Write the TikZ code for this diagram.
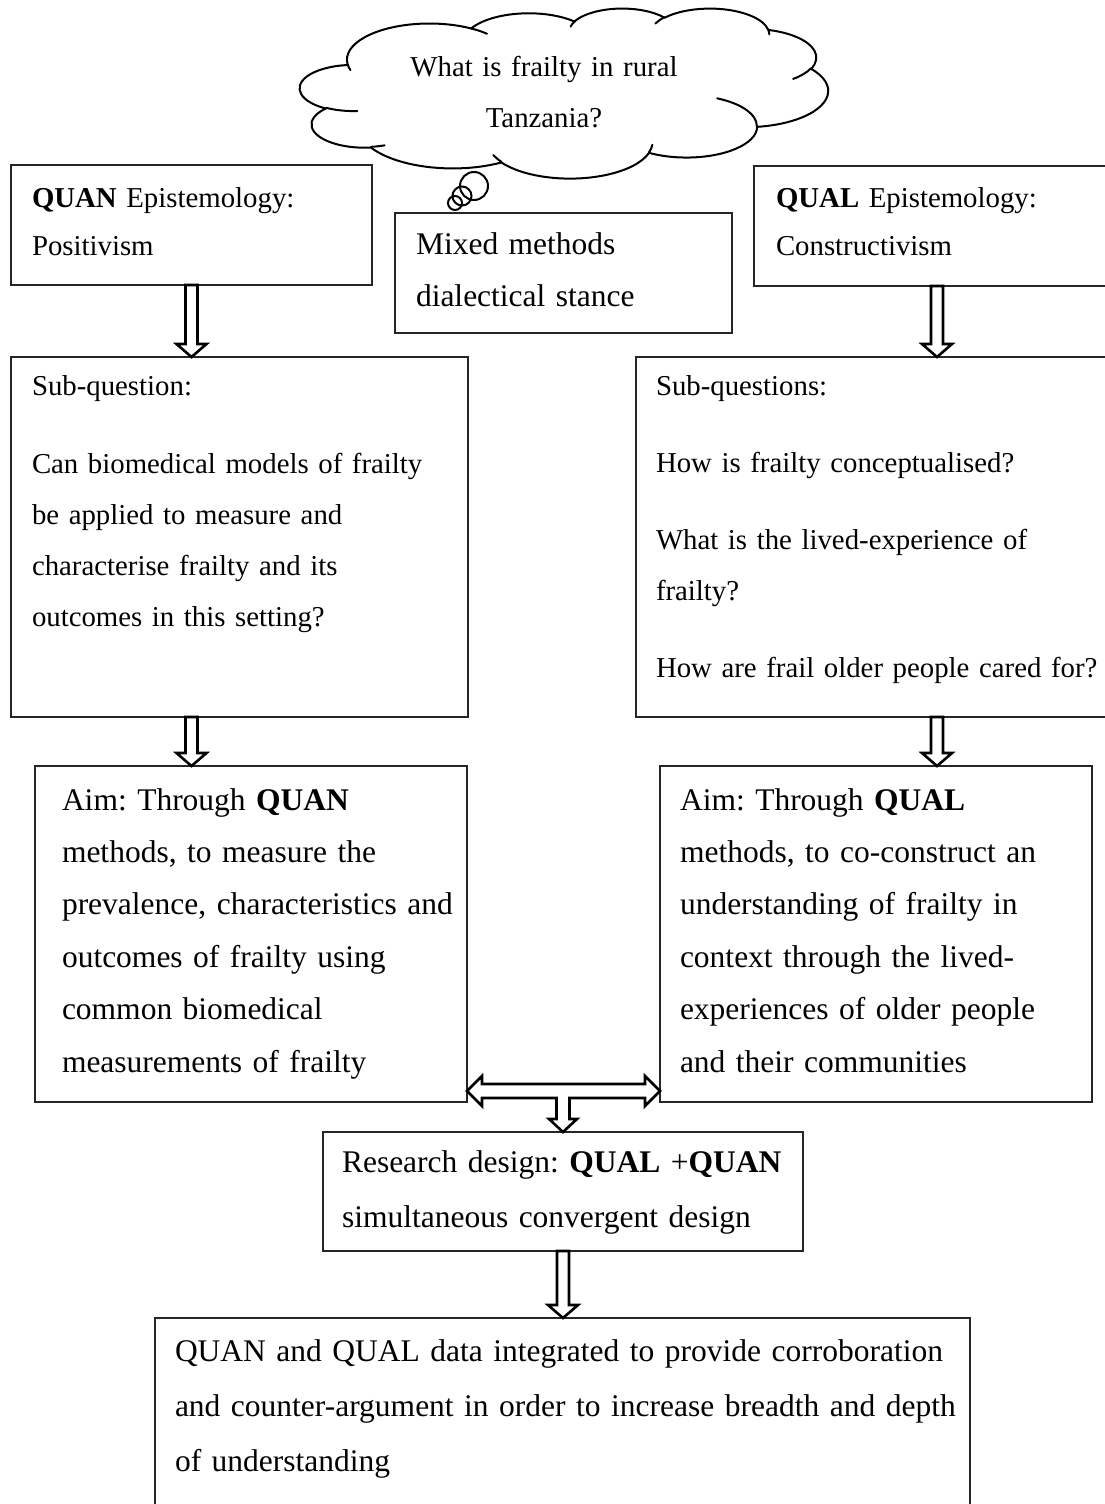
\documentclass[tikz,border=0pt]{standalone}
\usepackage{fontspec}
\setmainfont{Liberation Serif}
\usetikzlibrary{calc}
\frenchspacing
\tikzset{
  box/.style={draw=black!85, line width=1.3pt, inner sep=0pt, outer sep=0pt, anchor=north west, fill=none},
  blk/.style={draw=black, line width=2.6pt, line join=miter, fill=white},
  txt/.style={inner sep=0pt, outer sep=0pt, anchor=base west, text width=900pt, align=left},
  small/.style={font=\fontsize{28.8}{51}\selectfont},
  mid/.style={font=\fontsize{31.5}{52.4}\selectfont},
  cloudline/.style={draw=black, line width=2pt, line join=round},
  crease/.style={draw=black, line width=2pt, line cap=round},
}
\newcommand{\blockdown}[3]{% #1 x-ref node, #2 from node, #3 to node
  \draw[blk] let \p0=(#1.south), \p1=(#2.south), \p2=(#3.north) in
    (\x0-6pt,\y1) -- (\x0-6pt,\y2+13pt) -- (\x0-15pt,\y2+13pt) -- (\x0,\y2)
    -- (\x0+15pt,\y2+13pt) -- (\x0+6pt,\y2+13pt) -- (\x0+6pt,\y1) -- cycle;}
% arc with visual start angle #4 and sweep #5 on ellipse #2 x #3 -> parametric angles
\newcommand\cldarc[5]{%
  \pgfmathsetmacro\cldtS{atan2((#2)*sin(#4),(#3)*cos(#4))}%
  \pgfmathsetmacro\cldtE{atan2((#2)*sin((#4)+(#5)),(#3)*cos((#4)+(#5)))}%
  \pgfmathsetmacro\cldtD{mod(mod(\cldtE-\cldtS,360)+360,360)}%
  \expandafter\global\expandafter\let\csname cldS#1\endcsname\cldtS
  \expandafter\global\expandafter\let\csname cldD#1\endcsname\cldtD}
\newcommand\carc[3]{arc[start angle=\csname cldS#1\endcsname, delta angle=\csname cldD#1\endcsname, x radius=#2, y radius=#3]}
\begin{document}
\begin{tikzpicture}[x=1pt,y=-1pt]
\useasboundingbox (0,0) rectangle (1105,1504);
\clip (0,0) rectangle (1105,1504);
\fill[white] (0,0) rectangle (1105,1504);

% boxes
\node[box, minimum width=361pt, minimum height=120pt] (quan) at (11,165) {};
\node[box, minimum width=366pt, minimum height=120pt] (qual) at (754,166) {};
\node[box, minimum width=337pt, minimum height=120pt] (mixed) at (395,213) {};
\node[box, minimum width=457pt, minimum height=360pt] (subL) at (11,357) {};
\node[box, minimum width=604pt, minimum height=360pt] (subR) at (636,357) {};
\node[box, minimum width=432pt, minimum height=336pt] (aimL) at (35,766) {};
\node[box, minimum width=432pt, minimum height=336pt] (aimR) at (660,766) {};
\node[box, minimum width=480pt, minimum height=119pt] (research) at (323,1132) {};
\node[box, minimum width=815pt, minimum height=260pt] (final) at (155,1318) {};

% texts
\node[txt, font=\fontsize{28.8}{48}\selectfont] (quanT) at (32,207) {\textbf{QUAN} Epistemology:\\Positivism};
\node[txt, font=\fontsize{28.8}{48}\selectfont] (qualT) at (776,207) {\textbf{QUAL} Epistemology:\\Constructivism};
\node[txt, font=\fontsize{31.5}{52}\selectfont] (mixedT) at (416,254.5) {Mixed methods\\dialectical stance};
\node[txt, small] (subLT) at (32,395) {Sub-question:\\[27pt]Can biomedical models of frailty\\be applied to measure and\\characterise frailty and its\\outcomes in this setting?};
\node[txt, small] (subRT) at (656,395) {Sub-questions:\\[26pt]How is frailty conceptualised?\\[26pt]What is the lived-experience of\\frailty?\\[26pt]How are frail older people cared for?};
\node[txt, mid] (aimLT) at (62,810) {Aim: Through \textbf{QUAN}\\methods, to measure the\\prevalence, characteristics and\\outcomes of frailty using\\common biomedical\\measurements of frailty};
\node[txt, mid] (aimRT) at (680,810) {Aim: Through \textbf{QUAL}\\methods, to co-construct an\\understanding of frailty in\\context through the lived-\\experiences of older people\\and their communities};
\node[txt, font=\fontsize{31.5}{55}\selectfont] (researchT) at (342,1172.5) {Research design: \textbf{QUAL} +\textbf{QUAN}\\simultaneous convergent design};
\node[txt, font=\fontsize{31.5}{55}\selectfont] (finalT) at (175,1361) {QUAN and QUAL data integrated to provide corroboration\\and counter-argument in order to increase breadth and depth\\of understanding};

% block arrows
\blockdown{quan}{quan}{subL}
\blockdown{qual}{qual}{subR}
\blockdown{quan}{subL}{aimL}
\blockdown{qual}{subR}{aimR}
\blockdown{research}{research}{final}

% double arrow with stem
\draw[blk] let \p1=(aimL.south east), \p2=(aimR.south west), \p3=(research.north) in
  (\x1,\y1+11pt) -- (\x1+15pt,\y1+26pt) -- (\x1+15pt,\y1+18pt)
  -- (\x2-15pt,\y1+18pt) -- (\x2-15pt,\y1+26pt) -- (\x2,\y1+11pt)
  -- (\x2-15pt,\y1-4pt) -- (\x2-15pt,\y1+4pt)
  -- (\x3+6.5pt,\y1+4pt) -- (\x3+6.5pt,\y3+13pt) -- (\x3+14pt,\y3+13pt) -- (\x3,\y3)
  -- (\x3-14pt,\y3+13pt) -- (\x3-6.5pt,\y3+13pt) -- (\x3-6.5pt,\y1+4pt)
  -- (\x1+15pt,\y1+4pt) -- (\x1+15pt,\y1-4pt) -- cycle;

% cloud outline (callout cloud geometry, 432 x 432 units)
\cldarc{a}{67.53}{91.90}{-190.4875}{123.7805}
\cldarc{b}{53.33}{72.67}{-144.1024}{89.9452}
\cldarc{c}{43.65}{59.45}{-145.8079}{99.7230}
\cldarc{d}{48.57}{65.95}{-130.9861}{117.2417}
\cldarc{e}{53.33}{72.73}{-78.7089}{109.0269}
\cldarc{f}{67.75}{92.20}{-46.2673}{130.2690}
\cldarc{g}{57.85}{78.67}{0.6250}{114.0333}
\cldarc{h}{67.52}{92.15}{22.4516}{115.1726}
\cldarc{i}{77.20}{105.43}{66.2426}{75.7110}
\cldarc{j}{43.60}{59.18}{-274.9421}{146.7356}
\cldarc{k}{43.45}{59.45}{-246.8285}{152.5189}
\cldarc{m}{43.45}{59.45}{86.7420}{26.4295}
\cldarc{n}{43.60}{59.18}{73.6105}{11.4475}
\cldarc{o}{67.52}{92.15}{137.6242}{14.0811}
\cldarc{p}{67.52}{92.15}{6.4533}{15.9984}
\cldarc{q}{57.85}{78.67}{-70.2924}{70.9174}
\cldarc{r}{53.33}{72.73}{30.3180}{27.7515}
\cldarc{s}{48.57}{65.95}{-13.7443}{14.8589}
\cldarc{t}{48.57}{65.95}{-149.1815}{18.1954}
\cldarc{u}{43.65}{59.45}{-163.4943}{17.6864}
\cldarc{v}{67.53}{91.90}{-66.7070}{12.3194}
\cldarc{w}{67.53}{91.90}{157.6544}{11.8582}
\begin{scope}[shift={(300,8)}, xscale=1.2222, yscale=0.3935]
  \path[cloudline, fill=white] (39.00,143.70)
    \carc{a}{67.53}{91.90} \carc{b}{53.33}{72.67} \carc{c}{43.65}{59.45}
    \carc{d}{48.57}{65.95} \carc{e}{53.33}{72.73} \carc{f}{67.75}{92.20}
    \carc{g}{57.85}{78.67} \carc{h}{67.52}{92.15} \carc{i}{77.20}{105.43}
    \carc{j}{43.60}{59.18} \carc{k}{43.45}{59.45} -- cycle;
  \draw[crease] (46.93,261.77) \carc{m}{43.45}{59.45};
  \draw[crease] (69.28,348.99) \carc{n}{43.60}{59.18};
  \draw[crease] (164.78,390.90) \carc{o}{67.52}{92.15};
  \draw[crease] (288.27,347.51) \carc{p}{67.52}{92.15};
  \draw[crease] (341.29,229.54) \carc{q}{57.85}{78.67};
  \draw[crease] (417.98,153.54) \carc{r}{53.33}{72.73};
  \draw[crease] (383.24,54.26) \carc{s}{48.57}{65.95};
  \draw[crease] (290.78,39.52) \carc{t}{48.57}{65.95};
  \draw[crease] (221.41,47.20) \carc{u}{43.65}{59.45};
  \draw[crease] (140.00,51.92) \carc{v}{67.53}{91.90};
  \draw[crease] (41.27,157.89) \carc{w}{67.53}{91.90};
\end{scope}
\node[inner sep=0pt, anchor=base, text width=500pt, align=center, font=\fontsize{28.8}{51}\selectfont] (cloudT) at (544,77) {What is frailty in rural\\Tanzania?};
% thought bubbles
\draw[line width=2pt, fill=white] (474,186) circle (14) coordinate (b1);
\draw[line width=2pt] (462,196) circle (9.5) coordinate (b2);
\draw[line width=2pt] (455,203) circle (7) coordinate (b3);
\end{tikzpicture}
\end{document}
